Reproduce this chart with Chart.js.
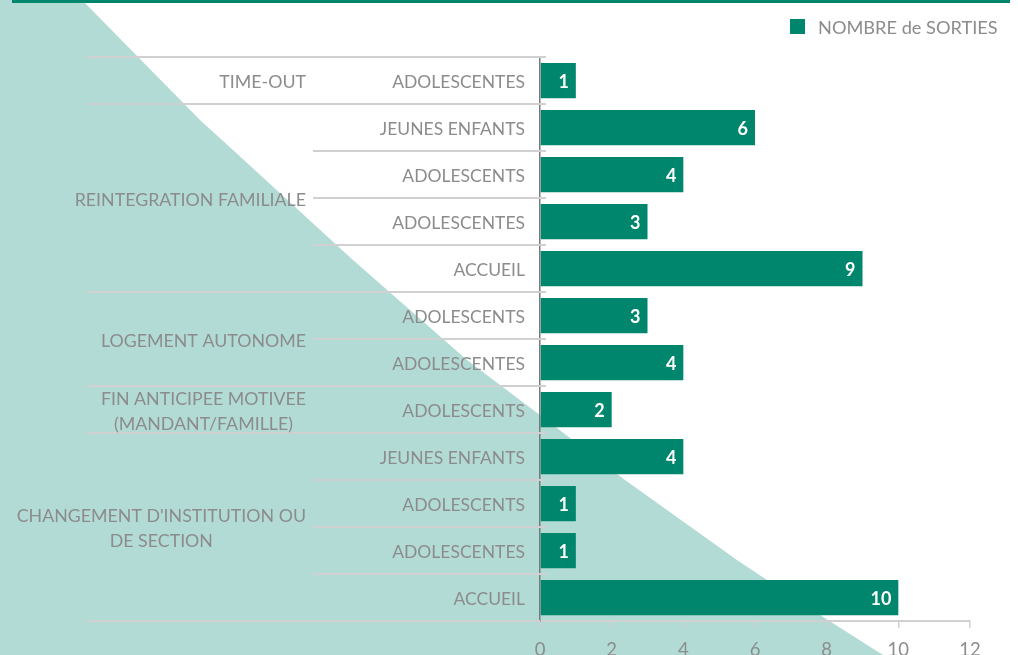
<!DOCTYPE html>
<html>
<head>
<meta charset="utf-8">
<script src="https://cdn.jsdelivr.net/npm/chart.js@4/dist/chart.umd.min.js"></script>
<style>
  html, body { margin: 0; padding: 0; background: #fff; }
</style>
</head>
<body>
<canvas id="chart" width="1018" height="655"></canvas>
<script>
(function () {
    'use strict';

    // --- Data ---

    const subLabels = [
        'ADOLESCENTES',
        'JEUNES ENFANTS', 'ADOLESCENTS', 'ADOLESCENTES', 'ACCUEIL',
        'ADOLESCENTS', 'ADOLESCENTES',
        'ADOLESCENTS',
        'JEUNES ENFANTS', 'ADOLESCENTS', 'ADOLESCENTES', 'ACCUEIL',
    ];
    const sorties = [1, 6, 4, 3, 9, 3, 4, 2, 4, 1, 1, 10];
    const groupLabels = [
        ['TIME-OUT'],
        ['REINTEGRATION FAMILIALE'],
        ['LOGEMENT AUTONOME'],
        ['FIN ANTICIPEE MOTIVEE', '(MANDANT/FAMILLE)'],
        ["CHANGEMENT D'INSTITUTION OU", 'DE SECTION'],
    ];
    const groupSizes = [1, 4, 2, 1, 4];
    const seriesName = 'NOMBRE de SORTIES';
    const xMin = 0, xMax = 12, xStep = 2;

    // --- Style ---

    const GREEN = '#00866d';
    const TEAL = '#b3dbd6';
    const GREY = '#8c8c8c';
    const LINE = '#d0d0d0';
    const FONT = 'Lato, "Open Sans", sans-serif';

    // diagonal edge of the light background shape
    const bgEdge = [
        [82, 0], [85, 3], [200, 120], [233, 150], [342, 250], [353, 260],
        [467, 360], [557, 428], [625, 480], [653, 500], [737, 560],
        [767, 580], [820, 615], [883, 655],
    ];

    const decor = {
        id: 'decor',
        beforeDraw(chart) {
            const ctx = chart.ctx;
            ctx.save();
            ctx.fillStyle = TEAL;
            ctx.beginPath();
            ctx.moveTo(0, 0);
            bgEdge.forEach(p => ctx.lineTo(p[0], p[1]));
            ctx.lineTo(0, chart.height);
            ctx.closePath();
            ctx.fill();
            ctx.fillStyle = GREEN;
            ctx.fillRect(12, 0, 998, 3);
            ctx.restore();
        },
        beforeDatasetsDraw(chart) {
            const ctx = chart.ctx;
            const y = chart.scales.y;
            const area = chart.chartArea;
            const n = subLabels.length;

            const bounds = [];
            for (let i = 0; i <= n; i++) {
                if (i === 0) bounds.push(area.top);
                else if (i === n) bounds.push(area.bottom);
                else bounds.push((y.getPixelForValue(i - 1) + y.getPixelForValue(i)) / 2);
            }
            const groupStarts = [0];
            groupSizes.forEach(s => groupStarts.push(groupStarts[groupStarts.length - 1] + s));

            ctx.save();
            ctx.strokeStyle = LINE;
            ctx.lineWidth = 2;
            bounds.forEach((by, i) => {
                const isGroup = groupStarts.includes(i);
                ctx.beginPath();
                ctx.moveTo(isGroup ? 87 : 313, by);
                ctx.lineTo(i === n ? area.left : area.left + 6, by);
                ctx.stroke();
            });

            // inner category labels
            ctx.fillStyle = GREY;
            ctx.font = '17.5px ' + FONT;
            ctx.textAlign = 'right';
            ctx.textBaseline = 'middle';
            subLabels.forEach((lab, i) => {
                ctx.fillText(lab, 525, y.getPixelForValue(i) + 2);
            });

            // group labels
            ctx.font = '17.8px ' + FONT;
            groupLabels.forEach((lines, g) => {
                const cy = (bounds[groupStarts[g]] + bounds[groupStarts[g + 1]]) / 2;
                const maxW = Math.max(...lines.map(l => ctx.measureText(l).width));
                const cx = 306 - maxW / 2;
                ctx.textAlign = 'center';
                const lh = 25;
                lines.forEach((l, k) => {
                    ctx.fillText(l, cx, cy + 2 + (k - (lines.length - 1) / 2) * lh);
                });
            });
            ctx.restore();
        },
        afterDatasetsDraw(chart) {
            const ctx = chart.ctx;
            const meta = chart.getDatasetMeta(0);
            ctx.save();
            ctx.fillStyle = '#fff';
            ctx.font = 'bold 18px ' + FONT;
            ctx.textAlign = 'right';
            ctx.textBaseline = 'middle';
            meta.data.forEach((bar, i) => {
                ctx.fillText(String(sorties[i]), bar.x - 7, bar.y + 2);
            });

            // legend
            ctx.fillStyle = chart.data.datasets[0].backgroundColor;
            ctx.fillRect(790, 19, 15, 15);
            ctx.fillStyle = GREY;
            ctx.font = '18.2px ' + FONT;
            ctx.textAlign = 'left';
            ctx.fillText(chart.data.datasets[0].label, 818, 28);
            ctx.restore();
        },
    };

    new Chart(document.getElementById('chart'), {
        type: 'bar',
        data: {
            labels: subLabels,
            datasets: [{
                label: seriesName,
                data: sorties,
                backgroundColor: GREEN,
                barPercentage: 0.75,
                categoryPercentage: 1,
            }],
        },
        options: {
            indexAxis: 'y',
            responsive: false,
            animation: false,
            layout: { padding: { top: 57, right: 48, bottom: 0, left: 0 } },
            plugins: {
                legend: { display: false },
                tooltip: { enabled: false },
            },
            scales: {
                x: {
                    min: xMin,
                    max: xMax,
                    ticks: {
                        stepSize: xStep,
                        color: GREY,
                        font: { family: FONT, size: 18.5 },
                        padding: 11,
                    },
                    grid: { drawOnChartArea: false, drawTicks: true, tickLength: 7, color: LINE, lineWidth: 1.5 },
                    border: { color: LINE, width: 2 },
                    afterFit(scale) { scale.height = 34; },
                },
                y: {
                    ticks: { display: false },
                    grid: { display: false },
                    border: { display: true, color: '#7a7a7a', width: 1.5 },
                    afterFit(scale) { scale.width = 540; },
                },
            },
        },
        plugins: [decor],
    });
})();
</script>
</body>
</html>
